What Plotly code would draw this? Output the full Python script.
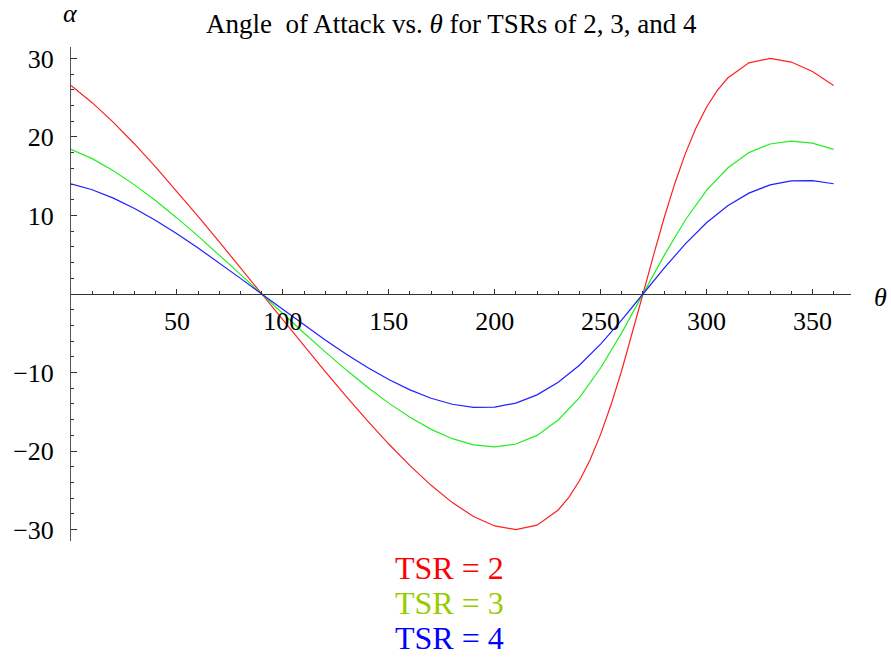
import plotly.graph_objects as go

theta = [0, 10, 20, 30, 40, 50, 60, 70, 80, 90, 100, 110, 120, 130, 140, 150, 160, 170, 180,
         190, 200, 210, 220, 230, 240, 250, 260, 270, 280, 290, 300, 310, 320, 330, 340, 350, 360]

theta_tsr2 = [0, 10, 20, 30, 40, 50, 60, 70, 80, 90, 100, 110, 120, 130, 140, 150, 160, 170, 180,
              190, 200, 210, 220, 230, 235, 240, 245, 250, 255, 260, 265, 270, 275, 280, 285, 290,
              295, 300, 305, 310, 320, 330, 340, 350, 360]
alpha_tsr2 = [26.57, 24.37, 21.86, 19.11, 16.17, 13.08, 9.90, 6.64, 3.33, 0.0, -3.33, -6.64, -9.90,
              -13.08, -16.17, -19.11, -21.86, -24.37, -26.57, -28.33, -29.54, -30.00, -29.44, -27.51,
              -25.91, -23.79, -21.13, -17.88, -14.05, -9.71, -4.96, 0.0, 4.96, 9.71, 14.05, 17.88,
              21.13, 23.79, 25.91, 27.51, 29.44, 30.00, 29.54, 28.33, 26.57]

alpha_tsr3 = [18.43, 17.24, 15.71, 13.90, 11.87, 9.69, 7.37, 4.96, 2.50, 0.0, -2.50, -4.96, -7.37,
              -9.69, -11.87, -13.90, -15.71, -17.24, -18.43, -19.21, -19.47, -19.11, -18.01, -16.05,
              -13.19, -9.43, -4.92, 0.0, 4.92, 9.43, 13.19, 16.05, 18.01, 19.11, 19.47, 19.21, 18.43]

alpha_tsr4 = [14.04, 13.28, 12.21, 10.89, 9.37, 7.68, 5.87, 3.96, 1.99, 0.0, -1.99, -3.96, -5.87,
              -7.68, -9.37, -10.89, -12.21, -13.28, -14.04, -14.43, -14.40, -13.90, -12.85, -11.24,
              -9.07, -6.38, -3.30, 0.0, 3.30, 6.38, 9.07, 11.24, 12.85, 13.90, 14.40, 14.43, 14.04]

x_ticks = [50, 100, 150, 200, 250, 300, 350]
y_ticks = [-30, -20, -10, 10, 20, 30]
legend_labels = ["TSR = 2", "TSR = 3", "TSR = 4"]

SERIF = "Liberation Serif, Times New Roman, serif"
W, H = 891, 657
L, R, T, B = 70.5, 40, 47, 116

fig = go.Figure()
fig.add_trace(go.Scatter(x=theta_tsr2, y=alpha_tsr2, mode="lines",
                         line=dict(color="#ff2020", width=1.2), showlegend=False))
fig.add_trace(go.Scatter(x=theta, y=alpha_tsr3, mode="lines",
                         line=dict(color="#22ee22", width=1.2), showlegend=False))
fig.add_trace(go.Scatter(x=theta, y=alpha_tsr4, mode="lines",
                         line=dict(color="#2020ff", width=1.2), showlegend=False))

fig.update_layout(
    width=W, height=H,
    margin=dict(l=L, r=R, t=T, b=B),
    paper_bgcolor="white", plot_bgcolor="white",
    font=dict(family=SERIF, color="black"),
    xaxis=dict(
        range=[0, 368.2], anchor="free", position=0.5,
        showgrid=False, zeroline=False,
        showline=True, linecolor="#333333", linewidth=1,
        tickmode="array", tickvals=x_ticks,
        ticks="inside", ticklen=5, tickcolor="#333333",
        minor=dict(tickmode="linear", tick0=0, dtick=10, ticks="inside", ticklen=3,
                   tickcolor="#333333", showgrid=False),
        tickfont=dict(family=SERIF, size=26, color="black"),
        ticklabelstandoff=4,
    ),
    yaxis=dict(
        range=[-31.46, 31.46],
        showgrid=False, zeroline=False,
        showline=True, linecolor="#555555", linewidth=1,
        tickmode="array", tickvals=y_ticks,
        ticks="inside", ticklen=6, tickcolor="#333333",
        minor=dict(tickmode="linear", tick0=0, dtick=2, ticks="inside", ticklen=3,
                   tickcolor="#333333", showgrid=False),
        tickfont=dict(family=SERIF, size=26, color="black"),
        ticklabelstandoff=11,
    ),
)

annotations = [
    dict(text="Angle\u00a0 of Attack vs. <i>θ</i> for TSRs of 2, 3, and 4",
         x=451, y=24, font=dict(size=27)),
    dict(text="<i>α</i>", x=70, y=14, font=dict(size=26)),
    dict(text="<i>θ</i>", x=881, y=297, font=dict(size=26)),
]
legend_colors = ["#ff0000", "#99cc00", "#0000ff"]
legend_y = [568, 603, 638]
for lab, col, ly in zip(legend_labels, legend_colors, legend_y):
    annotations.append(dict(text=lab, x=449, y=ly, font=dict(size=32, color=col)))

for a in annotations:
    a.update(xref="paper", yref="paper", showarrow=False, xanchor="center", yanchor="middle")
    a["x"] = (a["x"] - L) / (W - L - R)
    a["y"] = ((H - a["y"]) - B) / (H - T - B)
    a["font"].setdefault("color", "black")
    a["font"]["family"] = SERIF
fig.update_layout(annotations=annotations)

fig.write_html("out.html", config={"displayModeBar": False},
               post_script="document.body.style.margin='0';document.body.style.overflow='hidden';")
